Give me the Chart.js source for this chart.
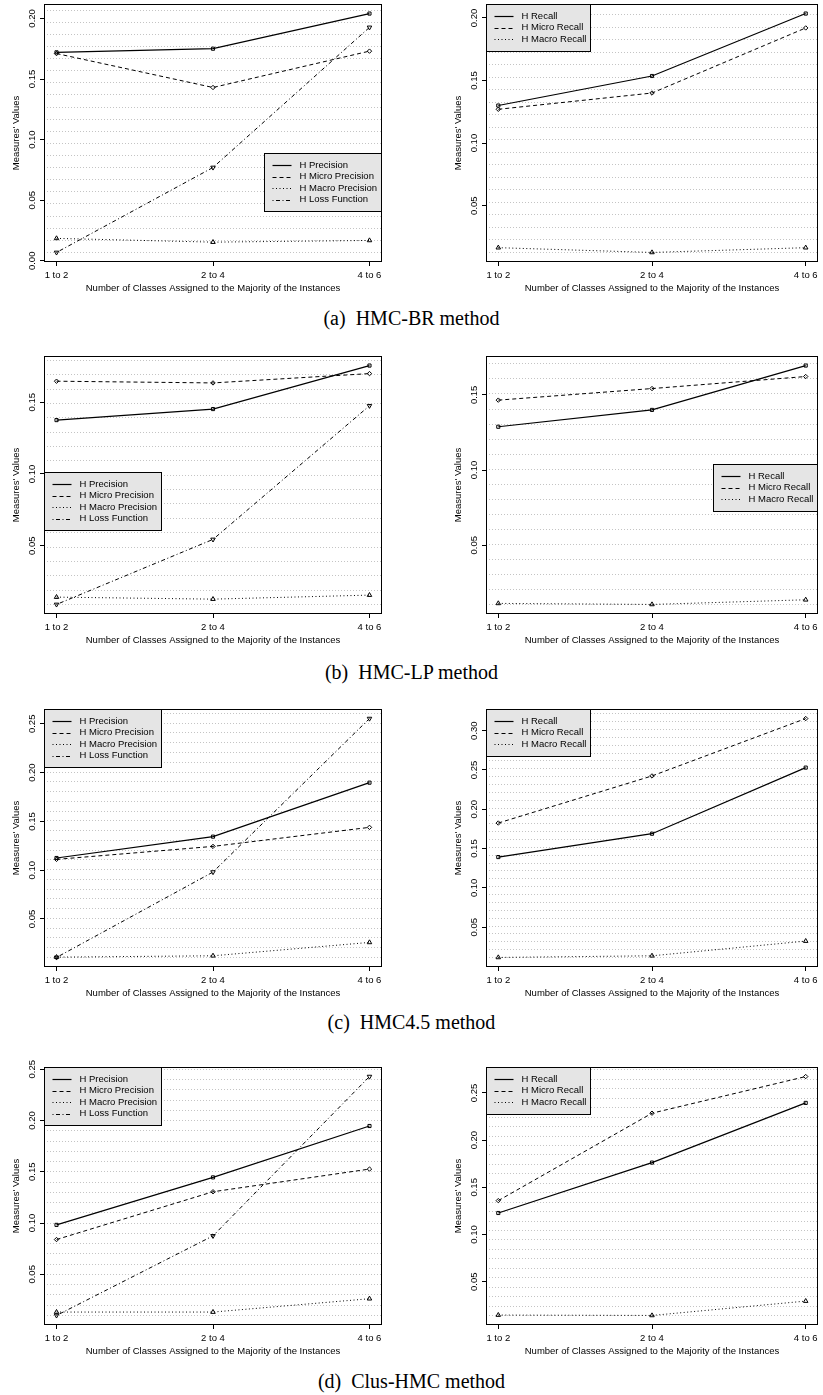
<!DOCTYPE html>
<html>
<head>
<meta charset="utf-8">
<script src="https://cdn.jsdelivr.net/npm/chart.js@4/dist/chart.umd.min.js"></script>
<style>
  body { margin: 0; background: #fff; }
  #page { position: relative; width: 823px; height: 1395px; overflow: hidden; }
  canvas { position: absolute; }
  .caption {
    position: absolute; left: 0; width: 823px; text-align: center;
    font-family: "Liberation Serif", "Times New Roman", serif;
    font-size: 20px; line-height: 24px; color: #000;
  }
</style>
</head>
<body>
<div id="page">
  <canvas id="brPrecision" width="410" height="310" style="left:0;top:-10px"></canvas>
  <canvas id="brRecall" width="381" height="310" style="left:442px;top:-10px"></canvas>
  <div class="caption" style="top:306px">(a)&nbsp; HMC-BR method</div>

  <canvas id="lpPrecision" width="410" height="310" style="left:0;top:342px"></canvas>
  <canvas id="lpRecall" width="381" height="310" style="left:442px;top:342px"></canvas>
  <div class="caption" style="top:660px">(b)&nbsp; HMC-LP method</div>

  <canvas id="c45Precision" width="410" height="310" style="left:0;top:695px"></canvas>
  <canvas id="c45Recall" width="381" height="310" style="left:442px;top:695px"></canvas>
  <div class="caption" style="top:1010px">(c)&nbsp; HMC4.5 method</div>

  <canvas id="clusPrecision" width="410" height="310" style="left:0;top:1053px"></canvas>
  <canvas id="clusRecall" width="381" height="310" style="left:442px;top:1053px"></canvas>
  <div class="caption" style="top:1369px">(d)&nbsp; Clus-HMC method</div>
</div>

<script>

// X AXIS
const xValues = [1, 2, 3];
const xLabels = ['1 to 2', '2 to 4', '4 to 6'];

// SERIES NAMES
const precisionNames = ['H Precision', 'H Micro Precision', 'H Macro Precision', 'H Loss Function'];
const recallNames = ['H Recall', 'H Micro Recall', 'H Macro Recall'];

// (a) HMC-BR
const brPrecisionValues = [0.172, 0.175, 0.204];
const brMicroPrecisionValues = [0.171, 0.143, 0.173];
const brMacroPrecisionValues = [0.0185, 0.0154, 0.0168];
const brLossValues = [0.0069, 0.077, 0.1926];
const brRecallValues = [0.130, 0.1536, 0.2035];
const brMicroRecallValues = [0.127, 0.140, 0.192];
const brMacroRecallValues = [0.0164, 0.0126, 0.0164];

// (b) HMC-LP
const lpPrecisionValues = [0.1375, 0.1452, 0.1755];
const lpMicroPrecisionValues = [0.1646, 0.1634, 0.1699];
const lpMacroPrecisionValues = [0.0142, 0.0128, 0.0156];
const lpLossValues = [0.0091, 0.0544, 0.1475];
const lpRecallValues = [0.1288, 0.140, 0.1695];
const lpMicroRecallValues = [0.1465, 0.1542, 0.1622];
const lpMacroRecallValues = [0.0113, 0.0106, 0.0137];

// (c) HMC4.5
const c45PrecisionValues = [0.1125, 0.1344, 0.1897];
const c45MicroPrecisionValues = [0.1111, 0.1244, 0.1439];
const c45MacroPrecisionValues = [0.0109, 0.0123, 0.026];
const c45LossValues = [0.0106, 0.0981, 0.2554];
const c45RecallValues = [0.1392, 0.1689, 0.253];
const c45MicroRecallValues = [0.1825, 0.2424, 0.3154];
const c45MacroRecallValues = [0.0115, 0.0136, 0.0323];

// (d) Clus-HMC
const clusPrecisionValues = [0.0982, 0.1445, 0.1946];
const clusMicroPrecisionValues = [0.0839, 0.1305, 0.1526];
const clusMacroPrecisionValues = [0.0132, 0.0132, 0.0262];
const clusLossValues = [0.0099, 0.0875, 0.2428];
const clusRecallValues = [0.1228, 0.1762, 0.2394];
const clusMicroRecallValues = [0.1359, 0.2285, 0.2673];
const clusMacroRecallValues = [0.0147, 0.0143, 0.0295];

// Y TICKS
const brPrecisionTicks = [0.00, 0.05, 0.10, 0.15, 0.20];
const brRecallTicks = [0.05, 0.10, 0.15, 0.20];
const lpTicks = [0.05, 0.10, 0.15];
const c45PrecisionTicks = [0.05, 0.10, 0.15, 0.20, 0.25];
const c45RecallTicks = [0.05, 0.10, 0.15, 0.20, 0.25, 0.30];
const clusTicks = [0.05, 0.10, 0.15, 0.20, 0.25];

// dotted background lines, one every 0.01 from the lowest value
const gridStep = 0.01;

// LINE STYLES (solid, dashed, dotted, dot-dash)
const lineDashes = [[], [4, 3], [1, 2.5], [1, 2.5, 4, 2.5]];
const markerShapes = ['rect', 'rectRot', 'triangle', 'triangle'];
const markerTurns = [0, 0, 0, 180];

Chart.defaults.font.family = '"Liberation Sans", Arial, Helvetica, sans-serif';
Chart.defaults.font.size = 9.5;
Chart.defaults.color = '#000';

// frame around the plot + grey legend box inside it
const framePlugin = {
    id: 'frameLegend',
    afterDatasetsDraw(chart, args, opts) {
        const { ctx, chartArea } = chart;
        const x1 = Math.floor(chartArea.left) + 0.5;
        const x2 = Math.ceil(chartArea.right) - 0.5;
        const y1 = Math.floor(chartArea.top) + 0.5;
        const y2 = Math.ceil(chartArea.bottom) - 0.5;

        ctx.save();
        ctx.strokeStyle = '#000';
        ctx.lineWidth = 1;
        ctx.strokeRect(x1, y1, x2 - x1, y2 - y1);

        // LEGEND
        const sets = chart.data.datasets;
        ctx.font = '9.5px "Liberation Sans", Arial, sans-serif';
        const textW = Math.max(...sets.map(d => ctx.measureText(d.label).width));
        const rowH = 11.5;
        const w = Math.round(35 + textW + 4);
        const h = Math.round(sets.length * rowH + 12);
        const lx = opts.side === 'right' ? x2 - w : x1;
        const ly = y1 + Math.round(opts.top);

        ctx.fillStyle = '#e5e5e5';
        ctx.fillRect(lx, ly, w, h);
        ctx.strokeRect(lx, ly, w, h);

        sets.forEach((d, i) => {
            const cy = ly + 6 + (i + 0.5) * rowH;
            ctx.setLineDash(d.borderDash);
            ctx.lineWidth = d.borderWidth;
            ctx.beginPath();
            ctx.moveTo(lx + 8, Math.round(cy) + 0.5);
            ctx.lineTo(lx + 27, Math.round(cy) + 0.5);
            ctx.stroke();
            ctx.setLineDash([]);
            ctx.fillStyle = '#000';
            ctx.textAlign = 'left';
            ctx.textBaseline = 'middle';
            ctx.fillText(d.label, lx + 35, cy);
        });
        ctx.restore();
    }
};

function tickGrid() {
    return {
        display: true,
        drawOnChartArea: false,
        drawTicks: true,
        tickLength: 4,
        tickColor: '#000',
        tickWidth: 1
    };
}

function makeChart(canvasId, names, series, yTicks, legendSide, legendTop, padRight) {

    const all = series.flat();
    const lo = Math.min(...all);
    const hi = Math.max(...all);
    const extra = (hi - lo) * 0.04;

    const datasets = series.map((vals, i) => ({
        label: names[i],
        data: vals.map((v, j) => ({ x: xValues[j], y: v })),
        borderColor: '#000',
        borderWidth: i === 0 ? 1.2 : 1,
        borderDash: lineDashes[i],
        pointStyle: markerShapes[i],
        pointRotation: markerTurns[i],
        pointRadius: i === 2 || i === 3 ? 2.6 : 2.2,
        pointBorderColor: '#000',
        pointBackgroundColor: 'rgba(0,0,0,0)',
        pointBorderWidth: 1,
        tension: 0,
        fill: false
    }));

    new Chart(document.getElementById(canvasId), {

        type: 'line',

        data: { datasets: datasets },

        options: {
            responsive: false,
            animation: false,
            devicePixelRatio: 1,
            layout: { padding: { left: 0, top: 14, right: padRight, bottom: 0 } },

            plugins: {
                legend: { display: false },
                tooltip: { enabled: false },
                frameLegend: { side: legendSide, top: legendTop }
            },

            scales: {
                x: {
                    type: 'linear',
                    min: 0.92,
                    max: 3.08,
                    afterBuildTicks: s => { s.ticks = xValues.map(v => ({ value: v })); },
                    afterFit: s => { s.height = 38; s.paddingLeft = 0; s.paddingRight = 0; },
                    ticks: {
                        autoSkip: false,
                        maxRotation: 0,
                        padding: 4,
                        callback: (v, i) => xLabels[i]
                    },
                    grid: tickGrid(),
                    border: { display: false },
                    title: {
                        display: true,
                        text: 'Number of Classes Assigned to the Majority of the Instances',
                        padding: { top: 0, bottom: 6 }
                    }
                },
                y: {
                    type: 'linear',
                    min: lo - extra,
                    max: hi + extra,
                    afterBuildTicks: s => { s.ticks = yTicks.map(v => ({ value: v })); },
                    afterFit: s => { s.width = 44; s.paddingTop = 0; s.paddingBottom = 0; },
                    ticks: {
                        minRotation: 90,
                        maxRotation: 90,
                        crossAlign: 'center',
                        padding: -2,
                        callback: v => v.toFixed(2)
                    },
                    grid: tickGrid(),
                    border: { display: false },
                    title: {
                        display: true,
                        text: "Measures' Values",
                        padding: { top: 11, bottom: 0 }
                    }
                },
                yGrid: {
                    type: 'linear',
                    position: 'right',
                    min: lo - extra,
                    max: hi + extra,
                    afterBuildTicks: s => {
                        const t = [];
                        for (let v = lo; v <= s.max; v += gridStep) t.push({ value: v });
                        s.ticks = t;
                    },
                    ticks: { display: false },
                    grid: { color: '#c4c4c4', lineWidth: 1, drawTicks: false },
                    border: { display: false, dash: [1, 2] }
                }
            }
        },

        plugins: [framePlugin]
    });
}

// (a)
makeChart('brPrecision', precisionNames,
    [brPrecisionValues, brMicroPrecisionValues, brMacroPrecisionValues, brLossValues],
    brPrecisionTicks, 'right', 149, 28);
makeChart('brRecall', recallNames,
    [brRecallValues, brMicroRecallValues, brMacroRecallValues],
    brRecallTicks, 'left', 0, 0);

// (b)
makeChart('lpPrecision', precisionNames,
    [lpPrecisionValues, lpMicroPrecisionValues, lpMacroPrecisionValues, lpLossValues],
    lpTicks, 'left', 116, 28);
makeChart('lpRecall', recallNames,
    [lpRecallValues, lpMicroRecallValues, lpMacroRecallValues],
    lpTicks, 'right', 108, 0);

// (c)
makeChart('c45Precision', precisionNames,
    [c45PrecisionValues, c45MicroPrecisionValues, c45MacroPrecisionValues, c45LossValues],
    c45PrecisionTicks, 'left', 0, 28);
makeChart('c45Recall', recallNames,
    [c45RecallValues, c45MicroRecallValues, c45MacroRecallValues],
    c45RecallTicks, 'left', 0, 0);

// (d)
makeChart('clusPrecision', precisionNames,
    [clusPrecisionValues, clusMicroPrecisionValues, clusMacroPrecisionValues, clusLossValues],
    clusTicks, 'left', 0, 28);
makeChart('clusRecall', recallNames,
    [clusRecallValues, clusMicroRecallValues, clusMacroRecallValues],
    clusTicks, 'left', 0, 0);

</script>
</body>
</html>
